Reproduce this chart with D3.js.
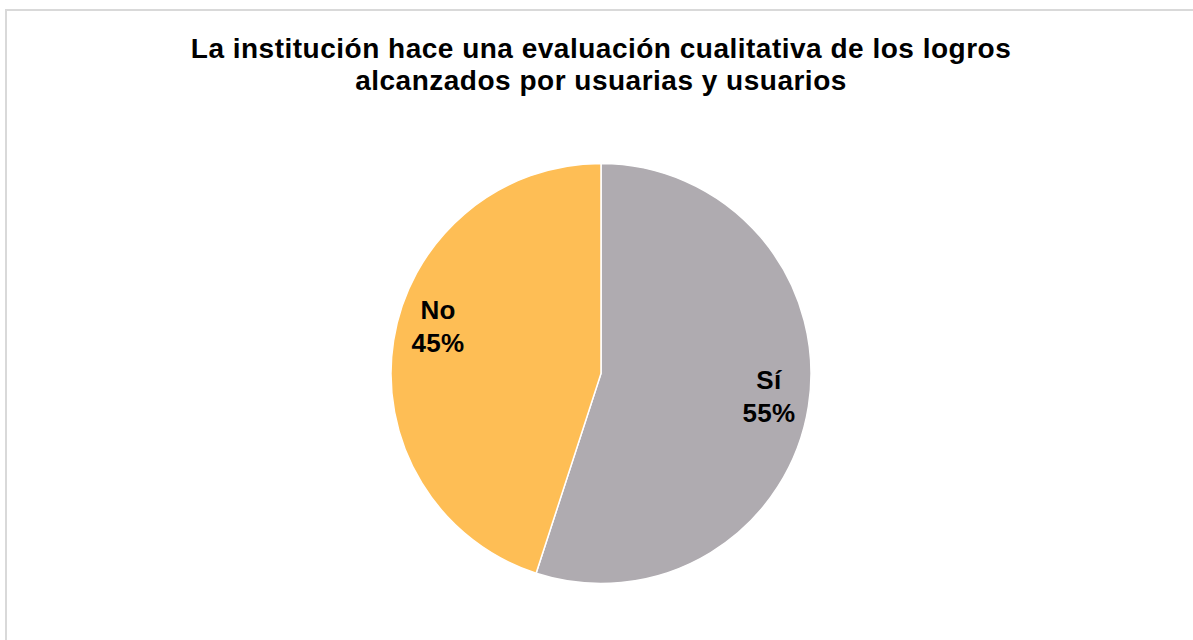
<!DOCTYPE html>
<html>
<head>
<meta charset="utf-8">
<script src="https://cdn.jsdelivr.net/npm/d3@7"></script>
<style>
  body { margin: 0; background: #fff; }
</style>
</head>
<body>
<script>
// data
const categories = ["Sí", "No"];
const values = [55, 45];
const colors = ["#AFABB0", "#FEBE55"];
const titleLines = [
    "La institución hace una evaluación cualitativa de los logros",
    "alcanzados por usuarias y usuarios"
];

const canvWidth = 1193, canvHeight = 640;
const cx = 601, cy = 373.5, radius = 210;

const svg = d3.select("body").append("svg")
    .attr("width", canvWidth)
    .attr("height", canvHeight);

// chart area border (runs past the window on the right and bottom)
svg.append("rect")
    .attr("x", 6)
    .attr("y", 10)
    .attr("width", canvWidth + 20)
    .attr("height", canvHeight + 20)
    .attr("fill", "none")
    .attr("stroke", "#d9d9d9")
    .attr("stroke-width", 2);

// title
svg.append("text")
    .attr("id", "chart-title")
    .attr("x", cx)
    .attr("y", 58)
    .attr("font-family", "Liberation Sans, Arial, sans-serif")
    .attr("font-size", "28px")
    .attr("font-weight", "bold")
    .attr("letter-spacing", "0.5px")
    .attr("text-anchor", "middle")
    .selectAll("tspan")
    .data(titleLines)
    .enter().append("tspan")
    .attr("x", cx)
    .attr("dy", (d, i) => i === 0 ? 0 : 32)
    .text(d => d);

const data = categories.map((c, i) => ({cat: c, value: values[i], color: colors[i]}));

const pie = d3.pie().sort(null).value(d => d.value);
const arc = d3.arc().innerRadius(0).outerRadius(radius);
const labelArc = d3.arc().innerRadius(radius * 0.8).outerRadius(radius * 0.8);

const g = svg.append("g")
    .attr("id", "pie")
    .attr("transform", `translate(${cx},${cy})`);

const slices = pie(data);

g.selectAll("path")
    .data(slices)
    .enter().append("path")
    .attr("d", arc)
    .attr("fill", d => d.data.color)
    .attr("stroke", "#fff")
    .attr("stroke-width", 1.5);

// labels: category + percent, two lines
const total = d3.sum(values);
const labels = g.selectAll("text.label")
    .data(slices)
    .enter().append("text")
    .attr("class", "label")
    .attr("transform", d => {
        const [x, y] = labelArc.centroid(d);
        // excel pushes the smaller slice label a bit upwards
        const nudge = d.data.cat === "No" ? -22 : -4;
        return `translate(${x + (d.data.cat === "No" ? 3 : 2)},${y + nudge})`;
    })
    .attr("font-family", "Liberation Sans, Arial, sans-serif")
    .attr("font-size", "26px")
    .attr("font-weight", "bold")
    .attr("letter-spacing", "0.3px")
    .attr("text-anchor", "middle")
    .attr("fill", "#000");

labels.append("tspan")
    .attr("x", 0)
    .attr("dy", "-0.25em")
    .text(d => d.data.cat);

labels.append("tspan")
    .attr("x", 0)
    .attr("dy", 33)
    .text(d => Math.round(d.data.value / total * 100) + "%");
</script>
</body>
</html>
